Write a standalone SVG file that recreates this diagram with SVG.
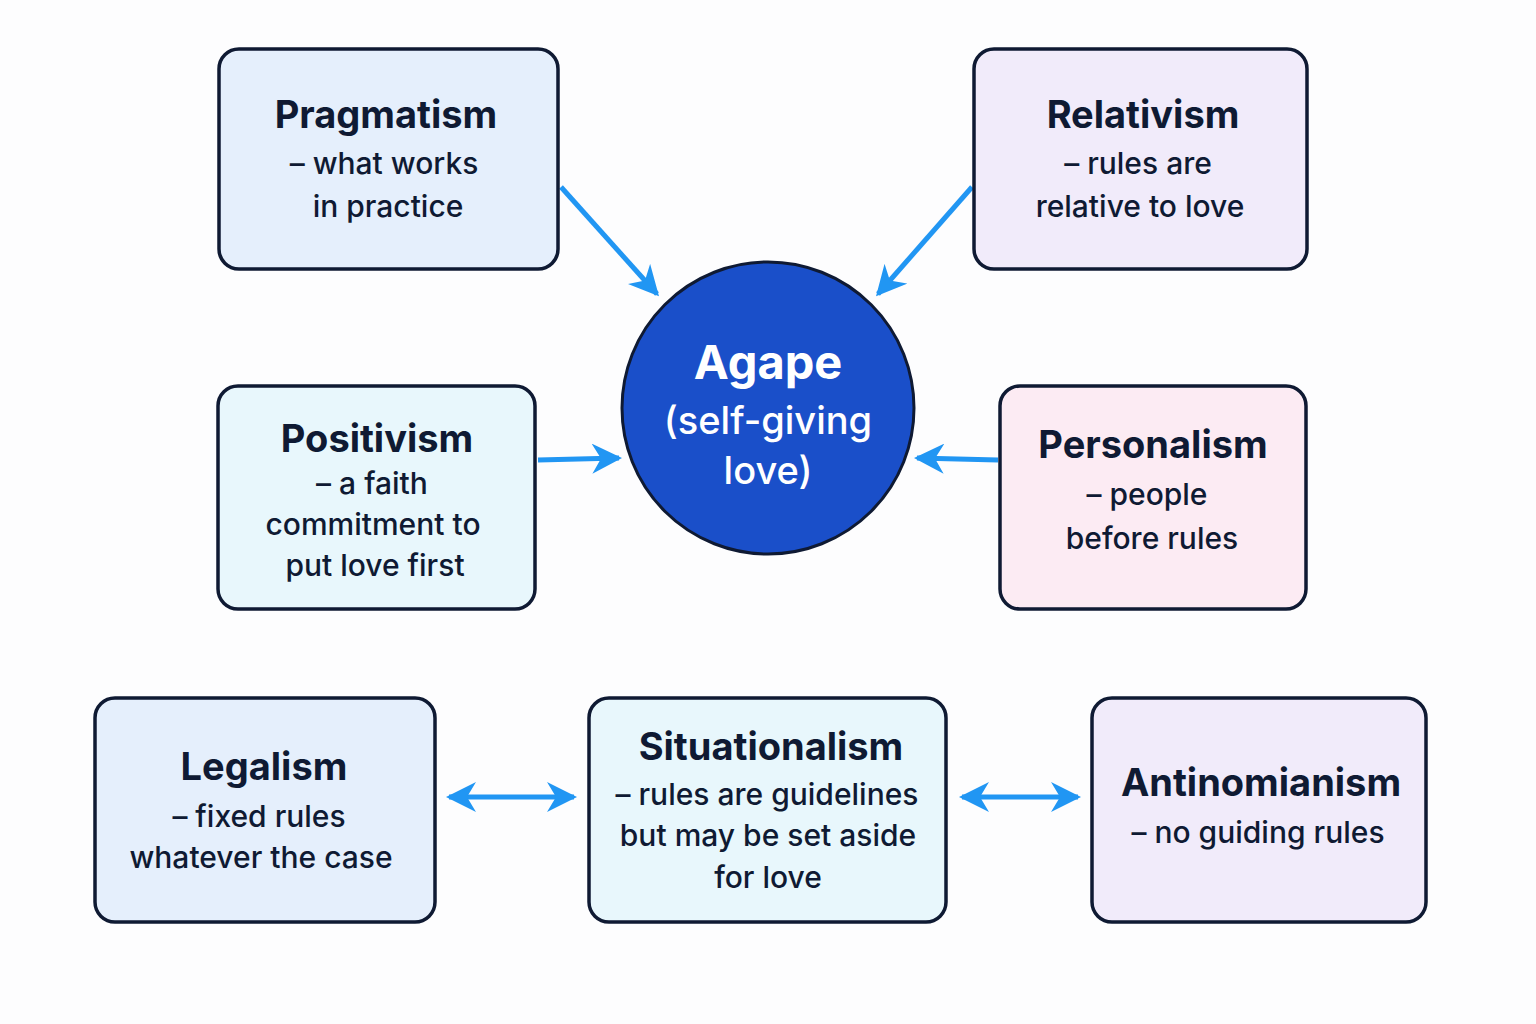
<svg xmlns="http://www.w3.org/2000/svg" width="1536" height="1024" viewBox="0 0 1536 1024">
<defs>
<marker id="ah" viewBox="0 0 10 10" refX="9" refY="5" markerWidth="6" markerHeight="6" orient="auto-start-reverse" markerUnits="strokeWidth">
<path d="M0,0 L10,5 L0,10 L3,5 z" fill="#2196f3"/>
</marker>
</defs>
<style>
.box{stroke:#0f1a33;stroke-width:3.5}
.blue{fill:#e5effc}
.cyan{fill:#e8f7fc}
.lav{fill:#f1ebfa}
.pink{fill:#fcebf3}
.t{font-family:Inter,"Liberation Sans",sans-serif;font-weight:700;font-size:38px;fill:#0f1a33;text-anchor:middle}
.b{font-family:Inter,"Liberation Sans",sans-serif;font-weight:500;font-size:30px;fill:#0f1a33;text-anchor:middle}
.c{font-family:Inter,"Liberation Sans",sans-serif;fill:#ffffff;text-anchor:middle}
.ln{stroke:#2196f3;stroke-width:5;fill:none}
</style>
<rect width="1536" height="1024" fill="#fdfdfe"/>
<g id="connectors">
<line class="ln" x1="561" y1="187" x2="657" y2="294" marker-end="url(#ah)"/>
<line class="ln" x1="972" y1="187" x2="878" y2="294" marker-end="url(#ah)"/>
<line class="ln" x1="538" y1="460" x2="619" y2="458" marker-end="url(#ah)"/>
<line class="ln" x1="998" y1="460" x2="917" y2="458" marker-end="url(#ah)"/>
<line class="ln" x1="449" y1="797" x2="574" y2="797" marker-start="url(#ah)" marker-end="url(#ah)"/>
<line class="ln" x1="962" y1="797" x2="1078" y2="797" marker-start="url(#ah)" marker-end="url(#ah)"/>
</g>
<g id="agape">
<circle cx="768" cy="408" r="146" fill="#1a4fc9" stroke="#0f1a33" stroke-width="3"/>
<text class="c" x="768" y="379" font-size="47" font-weight="700">Agape</text>
<text class="c" x="768" y="434" font-size="38" font-weight="500">(self-giving</text>
<text class="c" x="768" y="484" font-size="38" font-weight="500">love)</text>
</g>
<g id="pragmatism">
<rect class="box blue" x="219" y="49" width="339" height="220" rx="20"/>
<text class="t" x="386" y="128">Pragmatism</text>
<text class="b" x="384" y="174">– what works</text>
<text class="b" x="388" y="217">in practice</text>
</g>
<g id="relativism">
<rect class="box lav" x="974" y="49" width="333" height="220" rx="20"/>
<text class="t" x="1143" y="128">Relativism</text>
<text class="b" x="1138" y="174">– rules are</text>
<text class="b" x="1140" y="217">relative to love</text>
</g>
<g id="positivism">
<rect class="box cyan" x="218" y="386" width="317" height="223" rx="20"/>
<text class="t" x="377" y="452">Positivism</text>
<text class="b" x="372" y="494">– a faith</text>
<text class="b" x="373" y="535">commitment to</text>
<text class="b" x="375" y="576">put love first</text>
</g>
<g id="personalism">
<rect class="box pink" x="1000" y="386" width="306" height="223" rx="20"/>
<text class="t" x="1153" y="458">Personalism</text>
<text class="b" x="1147" y="505">– people</text>
<text class="b" x="1152" y="549">before rules</text>
</g>
<g id="legalism">
<rect class="box blue" x="95" y="698" width="340" height="224" rx="20"/>
<text class="t" x="264" y="780">Legalism</text>
<text class="b" x="259" y="827">– fixed rules</text>
<text class="b" x="261" y="868">whatever the case</text>
</g>
<g id="situationalism">
<rect class="box cyan" x="589" y="698" width="357" height="224" rx="20"/>
<text class="t" x="771" y="760">Situationalism</text>
<text class="b" x="767" y="805">– rules are guidelines</text>
<text class="b" x="768" y="846">but may be set aside</text>
<text class="b" x="768" y="888">for love</text>
</g>
<g id="antinomianism">
<rect class="box lav" x="1092" y="698" width="334" height="224" rx="20"/>
<text class="t" x="1261" y="796">Antinomianism</text>
<text class="b" x="1258" y="843">– no guiding rules</text>
</g>
</svg>
